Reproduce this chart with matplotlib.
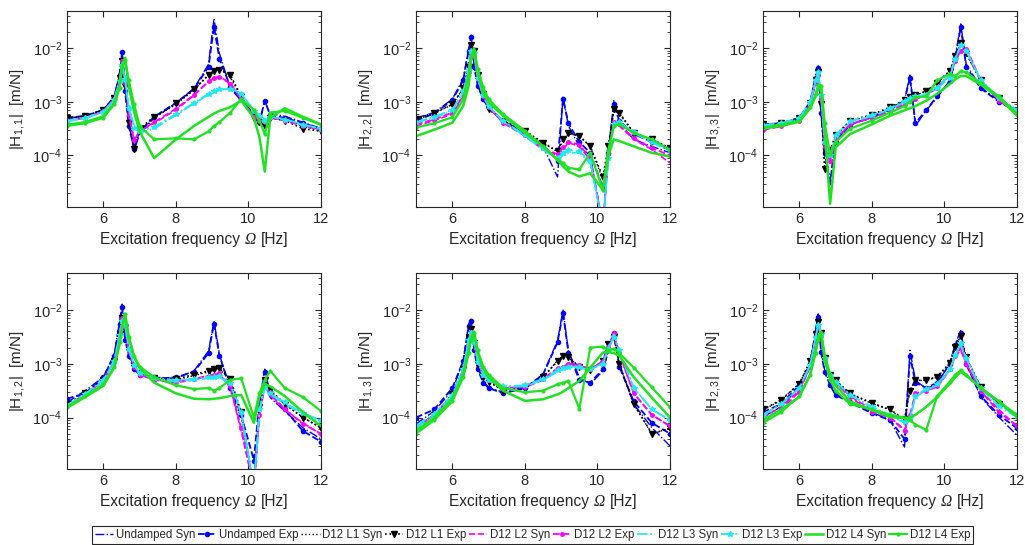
import numpy as np
import matplotlib
matplotlib.use("Agg")
import matplotlib.pyplot as plt
from matplotlib.ticker import LogLocator, NullFormatter
from matplotlib.offsetbox import TextArea, HPacker, AnchoredOffsetbox

plt.rcParams['font.family'] = ['Liberation Sans', 'DejaVu Sans']
plt.rcParams['mathtext.fontset'] = 'custom'
plt.rcParams['mathtext.rm'] = 'Liberation Sans'
plt.rcParams['mathtext.it'] = 'Liberation Sans:italic'
plt.rcParams['text.color'] = '#262626'
plt.rcParams['axes.labelcolor'] = '#262626'
plt.rcParams['xtick.color'] = '#262626'
plt.rcParams['ytick.color'] = '#262626'

# excitation frequency [Hz]
freq = [5.0, 5.5, 6.0, 6.3, 6.45, 6.52, 6.6, 6.7, 6.85, 7.0, 7.4, 8.0, 8.5,
        8.9, 9.05, 9.2, 9.5, 9.8, 10.15, 10.3, 10.45, 10.6, 11.0, 11.5, 12.0]

series = ['Undamped Syn', 'Undamped Exp', 'D12 L1 Syn', 'D12 L1 Exp',
          'D12 L2 Syn', 'D12 L2 Exp', 'D12 L3 Syn', 'D12 L3 Exp',
          'D12 L4 Syn', 'D12 L4 Exp']

# log10 |H| [m/N], one row per series (same order as series)
H11 = [
    [-3.31,-3.27,-3.15,-2.90,-2.45,-2.05,-2.75,-3.40,-3.90,-3.60,-3.30,-3.03,-2.75,-2.30,-1.45,-2.10,-2.75,-2.98,-3.22,-3.40,-3.00,-3.22,-3.27,-3.38,-3.50],
    [-3.30,-3.26,-3.15,-2.92,-2.50,-2.08,-2.80,-3.45,-3.88,-3.55,-3.28,-3.02,-2.76,-2.35,-1.60,-2.20,-2.72,-2.95,-3.24,-3.38,-2.98,-3.25,-3.30,-3.40,-3.50],
    [-3.30,-3.27,-3.15,-2.93,-2.55,-2.20,-2.60,-3.30,-3.80,-3.55,-3.30,-3.05,-2.78,-2.50,-2.43,-2.38,-2.55,-2.90,-3.28,-3.35,-3.42,-3.30,-3.33,-3.45,-3.55],
    [-3.30,-3.27,-3.15,-2.93,-2.55,-2.25,-2.70,-3.40,-3.87,-3.50,-3.28,-3.03,-2.77,-2.50,-2.42,-2.40,-2.50,-2.90,-3.30,-3.37,-3.45,-3.30,-3.35,-3.50,-3.55],
    [-3.35,-3.30,-3.18,-2.95,-2.60,-2.25,-2.60,-3.20,-3.70,-3.55,-3.40,-3.15,-2.88,-2.62,-2.57,-2.53,-2.65,-2.95,-3.28,-3.35,-3.38,-3.30,-3.33,-3.43,-3.52],
    [-3.35,-3.30,-3.18,-2.95,-2.60,-2.25,-2.65,-3.25,-3.72,-3.55,-3.38,-3.13,-2.87,-2.62,-2.56,-2.53,-2.67,-2.95,-3.28,-3.33,-3.38,-3.30,-3.35,-3.45,-3.52],
    [-3.35,-3.30,-3.18,-2.95,-2.60,-2.30,-2.55,-3.10,-3.45,-3.58,-3.50,-3.25,-3.03,-2.87,-2.82,-2.78,-2.75,-2.85,-3.15,-3.25,-3.32,-3.28,-3.32,-3.42,-3.50],
    [-3.36,-3.31,-3.19,-2.96,-2.62,-2.32,-2.58,-3.12,-3.48,-3.55,-3.47,-3.23,-3.02,-2.85,-2.80,-2.77,-2.76,-2.85,-3.17,-3.27,-3.35,-3.28,-3.33,-3.43,-3.50],
    [-3.43,-3.38,-3.27,-3.02,-2.70,-2.30,-2.18,-2.70,-3.20,-3.55,-4.05,-3.70,-3.45,-3.28,-3.22,-3.17,-3.10,-2.98,-3.30,-3.65,-4.30,-3.30,-3.12,-3.28,-3.42],
    [-3.45,-3.40,-3.30,-3.05,-2.75,-2.35,-2.22,-2.60,-3.05,-3.45,-3.70,-3.68,-3.70,-3.55,-3.45,-3.38,-3.20,-2.95,-3.15,-3.35,-3.60,-3.20,-3.17,-3.30,-3.43],
]

H22 = [
    [-3.30,-3.20,-2.95,-2.57,-2.00,-1.76,-2.33,-2.70,-2.95,-3.10,-3.36,-3.58,-3.83,-4.40,-2.90,-3.45,-3.83,-4.00,-5.30,-4.00,-2.98,-3.40,-3.70,-3.83,-3.95],
    [-3.35,-3.22,-2.97,-2.60,-2.05,-1.80,-2.35,-2.70,-2.95,-3.12,-3.35,-3.60,-3.80,-4.10,-2.95,-3.40,-3.75,-3.95,-4.60,-3.95,-3.05,-3.35,-3.60,-3.75,-3.90],
    [-3.33,-3.22,-3.05,-2.75,-2.35,-1.95,-2.05,-2.50,-2.85,-3.12,-3.35,-3.55,-3.77,-3.93,-3.72,-3.60,-3.63,-3.83,-4.45,-3.85,-3.15,-3.22,-3.58,-3.70,-3.86],
    [-3.32,-3.20,-3.05,-2.75,-2.35,-1.95,-2.05,-2.50,-2.85,-3.14,-3.35,-3.54,-3.76,-3.92,-3.70,-3.58,-3.64,-3.83,-4.40,-3.83,-3.14,-3.20,-3.58,-3.70,-3.86],
    [-3.45,-3.35,-3.23,-2.90,-2.45,-2.08,-2.14,-2.58,-2.90,-3.10,-3.39,-3.64,-3.89,-4.00,-3.89,-3.76,-3.83,-4.08,-5.30,-4.00,-3.39,-3.45,-3.70,-3.89,-4.14],
    [-3.42,-3.33,-3.20,-2.88,-2.45,-2.08,-2.14,-2.58,-2.90,-3.10,-3.39,-3.62,-3.86,-3.98,-3.85,-3.74,-3.80,-4.05,-5.30,-3.98,-3.38,-3.42,-3.68,-3.86,-4.00],
    [-3.39,-3.30,-3.17,-2.82,-2.40,-2.05,-2.10,-2.55,-2.88,-3.08,-3.37,-3.64,-3.89,-4.08,-4.00,-3.95,-3.95,-4.14,-5.30,-4.08,-3.45,-3.39,-3.58,-3.76,-3.92],
    [-3.38,-3.28,-3.15,-2.80,-2.40,-2.05,-2.10,-2.55,-2.88,-3.08,-3.36,-3.62,-3.86,-4.05,-3.95,-3.90,-3.92,-4.10,-5.30,-4.05,-3.42,-3.38,-3.56,-3.74,-3.90],
    [-3.64,-3.52,-3.39,-3.08,-2.70,-2.20,-2.00,-2.45,-2.83,-3.01,-3.26,-3.58,-3.83,-4.08,-4.20,-4.30,-4.39,-4.33,-4.64,-4.00,-3.70,-3.73,-3.83,-3.95,-4.02],
    [-3.48,-3.40,-3.29,-2.95,-2.50,-2.14,-2.05,-2.39,-2.73,-2.95,-3.23,-3.54,-3.83,-4.08,-4.14,-4.23,-4.26,-3.95,-4.64,-3.89,-3.45,-3.42,-3.58,-3.70,-3.89],
]

H33 = [
    [-3.45,-3.42,-3.32,-3.00,-2.50,-2.33,-3.25,-4.00,-4.45,-3.73,-3.42,-3.29,-3.16,-2.98,-2.50,-3.45,-3.16,-2.92,-2.60,-2.15,-1.55,-2.30,-2.73,-2.98,-3.17],
    [-3.42,-3.40,-3.30,-3.00,-2.55,-2.38,-3.20,-3.95,-4.50,-3.75,-3.43,-3.28,-3.15,-2.97,-2.55,-3.40,-3.15,-2.90,-2.62,-2.20,-1.60,-2.35,-2.75,-3.00,-3.18],
    [-3.42,-3.40,-3.30,-3.02,-2.60,-2.45,-3.00,-4.20,-3.95,-3.65,-3.36,-3.25,-3.12,-2.98,-2.92,-2.88,-2.80,-2.65,-2.42,-2.15,-1.92,-2.10,-2.62,-2.95,-3.18],
    [-3.42,-3.40,-3.30,-3.02,-2.60,-2.45,-3.05,-4.25,-3.90,-3.62,-3.35,-3.24,-3.10,-2.97,-2.92,-2.88,-2.80,-2.65,-2.42,-2.15,-1.90,-2.10,-2.60,-2.93,-3.18],
    [-3.50,-3.45,-3.35,-3.05,-2.65,-2.48,-2.90,-3.80,-4.15,-3.70,-3.42,-3.30,-3.18,-3.05,-2.98,-2.93,-2.87,-2.72,-2.50,-2.25,-2.05,-2.00,-2.60,-2.98,-3.20],
    [-3.52,-3.46,-3.36,-3.05,-2.65,-2.50,-2.95,-3.85,-4.10,-3.68,-3.42,-3.30,-3.17,-3.04,-2.97,-2.95,-2.88,-2.74,-2.50,-2.25,-2.05,-2.02,-2.60,-2.98,-3.20],
    [-3.45,-3.42,-3.32,-3.02,-2.62,-2.45,-2.85,-3.70,-4.05,-3.65,-3.38,-3.27,-3.14,-3.00,-2.95,-2.90,-2.85,-2.72,-2.50,-2.20,-1.95,-2.05,-2.60,-2.95,-3.17],
    [-3.43,-3.40,-3.30,-3.00,-2.60,-2.45,-2.88,-3.75,-4.00,-3.62,-3.36,-3.25,-3.12,-2.98,-2.93,-2.90,-2.87,-2.75,-2.55,-2.20,-1.95,-2.05,-2.60,-2.93,-3.15],
    [-3.50,-3.45,-3.37,-3.12,-2.90,-2.75,-2.70,-3.50,-4.90,-3.85,-3.60,-3.42,-3.26,-3.16,-3.12,-3.08,-2.98,-2.85,-2.67,-2.58,-2.52,-2.52,-2.68,-2.92,-3.26],
    [-3.48,-3.43,-3.35,-3.10,-2.85,-2.68,-2.70,-3.40,-3.98,-3.75,-3.50,-3.35,-3.20,-3.08,-3.00,-2.92,-2.90,-2.60,-2.48,-2.52,-2.43,-2.45,-2.65,-2.90,-3.22],
]

H12 = [
    [-3.72,-3.50,-3.25,-2.82,-2.20,-1.89,-2.51,-2.82,-3.07,-3.19,-3.25,-3.27,-3.13,-2.76,-2.20,-2.82,-3.50,-4.00,-5.30,-3.75,-3.10,-3.63,-3.88,-4.19,-4.40],
    [-3.65,-3.55,-3.25,-2.85,-2.25,-1.95,-2.55,-2.85,-3.10,-3.20,-3.28,-3.25,-3.15,-2.80,-2.25,-2.85,-3.45,-3.95,-4.80,-3.70,-3.15,-3.55,-3.85,-4.25,-4.45],
    [-3.78,-3.57,-3.30,-2.95,-2.45,-2.15,-2.30,-2.75,-3.05,-3.17,-3.27,-3.30,-3.22,-3.15,-3.12,-3.10,-3.30,-3.95,-5.30,-3.85,-3.30,-3.50,-3.75,-4.00,-4.19],
    [-3.75,-3.55,-3.30,-2.95,-2.45,-2.15,-2.32,-2.75,-3.05,-3.17,-3.27,-3.28,-3.20,-3.13,-3.10,-3.08,-3.28,-3.90,-5.30,-3.80,-3.30,-3.48,-3.75,-4.00,-4.19],
    [-3.80,-3.58,-3.32,-2.95,-2.45,-2.15,-2.30,-2.75,-3.05,-3.20,-3.30,-3.35,-3.30,-3.22,-3.20,-3.19,-3.44,-4.25,-5.30,-4.00,-3.40,-3.60,-3.85,-4.10,-4.31],
    [-3.78,-3.57,-3.32,-2.95,-2.45,-2.15,-2.32,-2.77,-3.05,-3.20,-3.30,-3.33,-3.28,-3.22,-3.20,-3.18,-3.42,-4.20,-5.30,-3.95,-3.40,-3.55,-3.85,-4.12,-4.30],
    [-3.78,-3.57,-3.32,-2.95,-2.47,-2.18,-2.25,-2.70,-3.02,-3.17,-3.28,-3.33,-3.30,-3.27,-3.26,-3.25,-3.38,-3.94,-5.30,-3.90,-3.45,-3.57,-3.75,-3.94,-4.09],
    [-3.77,-3.56,-3.30,-2.95,-2.47,-2.20,-2.27,-2.72,-3.03,-3.17,-3.27,-3.30,-3.28,-3.25,-3.25,-3.23,-3.35,-3.90,-5.30,-3.85,-3.42,-3.55,-3.72,-3.92,-4.05],
    [-3.82,-3.62,-3.41,-3.07,-2.63,-2.32,-2.07,-2.51,-2.88,-3.07,-3.35,-3.55,-3.65,-3.66,-3.65,-3.64,-3.60,-3.58,-4.10,-3.62,-3.38,-3.42,-3.60,-3.90,-4.16],
    [-3.80,-3.60,-3.38,-3.05,-2.60,-2.30,-2.08,-2.50,-2.85,-3.05,-3.25,-3.40,-3.47,-3.45,-3.50,-3.45,-3.30,-3.27,-4.00,-3.55,-3.30,-3.13,-3.45,-3.62,-3.88],
]

H13 = [
    [-4.12,-3.88,-3.50,-2.94,-2.26,-2.17,-2.70,-3.07,-3.32,-3.44,-3.53,-3.47,-3.19,-2.57,-2.00,-2.76,-3.25,-3.38,-3.13,-2.76,-2.39,-3.00,-3.75,-4.19,-4.53],
    [-4.00,-3.85,-3.45,-2.95,-2.30,-2.20,-2.75,-3.10,-3.35,-3.45,-3.55,-3.45,-3.20,-2.60,-2.05,-2.80,-3.30,-3.35,-3.10,-2.75,-2.42,-3.05,-3.70,-4.10,-4.30],
    [-4.19,-3.95,-3.57,-3.10,-2.50,-2.35,-2.60,-3.00,-3.25,-3.32,-3.50,-3.44,-3.25,-2.94,-2.85,-2.88,-3.06,-3.13,-2.94,-2.63,-2.51,-3.00,-3.75,-4.31,-4.19],
    [-4.20,-3.95,-3.57,-3.10,-2.50,-2.35,-2.62,-3.00,-3.25,-3.33,-3.50,-3.43,-3.25,-2.95,-2.85,-2.88,-3.05,-3.12,-2.95,-2.63,-2.50,-3.00,-3.75,-4.30,-4.20],
    [-4.20,-3.95,-3.60,-3.12,-2.55,-2.40,-2.60,-2.95,-3.20,-3.30,-3.45,-3.44,-3.30,-3.10,-3.06,-3.00,-3.02,-3.10,-2.95,-2.70,-2.48,-2.80,-3.55,-3.95,-4.16],
    [-4.18,-3.95,-3.60,-3.12,-2.55,-2.40,-2.62,-2.97,-3.20,-3.30,-3.45,-3.43,-3.28,-3.08,-3.05,-3.00,-3.03,-3.10,-2.95,-2.68,-2.42,-2.80,-3.55,-3.95,-4.16],
    [-4.20,-3.95,-3.60,-3.12,-2.55,-2.40,-2.58,-2.95,-3.20,-3.30,-3.43,-3.42,-3.30,-3.15,-3.10,-3.07,-3.07,-3.12,-2.98,-2.70,-2.45,-2.75,-3.45,-3.85,-4.05],
    [-4.15,-3.93,-3.58,-3.10,-2.55,-2.42,-2.60,-2.97,-3.20,-3.30,-3.42,-3.40,-3.28,-3.12,-3.08,-3.05,-3.05,-3.10,-3.00,-2.72,-2.50,-2.75,-3.45,-3.85,-4.05],
    [-4.25,-4.00,-3.65,-3.20,-2.75,-2.50,-2.40,-2.80,-3.10,-3.25,-3.50,-3.69,-3.66,-3.57,-3.52,-3.45,-3.32,-3.07,-2.79,-2.78,-2.80,-2.85,-3.25,-3.63,-4.00],
    [-4.30,-4.05,-3.70,-3.25,-2.80,-2.55,-2.42,-2.75,-3.05,-3.20,-3.45,-3.53,-3.50,-3.38,-3.35,-3.32,-3.84,-2.70,-2.68,-2.75,-2.72,-2.80,-3.07,-3.44,-3.81],
]

H23 = [
    [-3.99,-3.80,-3.43,-3.00,-2.38,-2.07,-2.75,-3.12,-3.37,-3.56,-3.71,-3.90,-4.05,-4.55,-2.75,-3.31,-3.46,-3.37,-2.99,-2.63,-2.38,-2.99,-3.62,-3.99,-4.33],
    [-3.90,-3.75,-3.40,-3.00,-2.40,-2.12,-2.78,-3.15,-3.40,-3.58,-3.72,-3.92,-4.05,-4.40,-2.85,-3.35,-3.45,-3.35,-3.00,-2.65,-2.42,-3.00,-3.60,-3.95,-4.20],
    [-3.86,-3.68,-3.37,-2.95,-2.45,-2.20,-2.40,-2.90,-3.20,-3.31,-3.56,-3.74,-3.86,-4.05,-3.49,-3.31,-3.31,-3.25,-2.99,-2.68,-2.50,-2.88,-3.43,-3.74,-3.99],
    [-3.85,-3.67,-3.37,-2.95,-2.45,-2.22,-2.42,-2.90,-3.20,-3.31,-3.55,-3.73,-3.85,-4.03,-3.50,-3.31,-3.30,-3.24,-2.98,-2.68,-2.48,-2.88,-3.43,-3.74,-3.97],
    [-4.00,-3.80,-3.50,-3.05,-2.55,-2.30,-2.45,-2.90,-3.20,-3.35,-3.60,-3.85,-3.99,-4.23,-3.98,-3.56,-3.50,-3.43,-3.12,-2.85,-2.75,-3.00,-3.50,-3.85,-4.17],
    [-4.05,-3.85,-3.52,-3.05,-2.55,-2.30,-2.48,-2.90,-3.20,-3.35,-3.62,-3.90,-4.00,-4.25,-3.95,-3.55,-3.50,-3.42,-3.10,-2.85,-2.70,-3.00,-3.50,-3.90,-4.15],
    [-3.95,-3.75,-3.45,-3.02,-2.50,-2.25,-2.42,-2.90,-3.20,-3.33,-3.58,-3.82,-3.96,-4.10,-4.03,-3.62,-3.49,-3.40,-3.12,-2.85,-2.65,-2.90,-3.45,-3.80,-3.99],
    [-3.95,-3.75,-3.45,-3.02,-2.50,-2.27,-2.45,-2.90,-3.20,-3.33,-3.58,-3.80,-3.95,-4.08,-4.00,-3.60,-3.47,-3.38,-3.10,-2.83,-2.62,-2.90,-3.45,-3.78,-3.97],
    [-4.05,-3.85,-3.62,-3.20,-2.75,-2.50,-2.40,-2.85,-3.20,-3.40,-3.70,-3.86,-3.99,-4.01,-4.00,-3.95,-3.80,-3.62,-3.37,-3.25,-3.15,-3.22,-3.45,-3.70,-3.99],
    [-4.10,-3.90,-3.60,-3.20,-2.80,-2.55,-2.42,-2.95,-3.30,-3.50,-3.75,-3.85,-3.95,-4.00,-4.05,-4.13,-4.23,-3.60,-3.33,-3.20,-3.12,-3.20,-3.45,-3.70,-3.95],
]

panels = [(H11, '1,1'), (H22, '2,2'), (H33, '3,3'),
          (H12, '1,2'), (H13, '1,3'), (H23, '2,3')]

blue = '#0000ff'
green = '#22e022'
cyan = '#22e8f0'
styles = [
    dict(color=blue, ls='-.', lw=1.0),
    dict(color=blue, ls='--', lw=1.3, marker='o', ms=3),
    dict(color='black', ls=':', lw=1.0),
    dict(color='black', ls=':', lw=1.2, marker='v', ms=4),
    dict(color='#ff00ff', ls='--', lw=1.2),
    dict(color='#ff00ff', ls='--', lw=1.3, marker='o', ms=2.5),
    dict(color=cyan, ls='-.', lw=1.2),
    dict(color=cyan, ls='-.', lw=1.3, marker='*', ms=4),
    dict(color=green, ls='-', lw=1.8),
    dict(color=green, ls='-', lw=1.6, marker='o', ms=2),
]


def freq_label(ax):
    # "Excitation frequency Ω [Hz]" with an italic serif Omega
    tp = dict(fontsize=11.2, color='#262626')
    parts = [TextArea('Excitation frequency', textprops=tp),
             TextArea('\u03A9', textprops=dict(tp, family='Liberation Serif', style='italic')),
             TextArea('[Hz]', textprops=tp)]
    box = HPacker(children=parts, align='baseline', pad=0, sep=3.5)
    anc = AnchoredOffsetbox(loc='upper center', child=box, pad=0, borderpad=0,
                            frameon=False, bbox_to_anchor=(0.5, -0.125),
                            bbox_transform=ax.transAxes)
    ax.add_artist(anc)


fig = plt.figure(figsize=(10.25, 5.45), dpi=100)
lefts = [0.0654, 0.4059, 0.7444]
bottoms = [0.6202, 0.1394]
w, h = 0.2478, 0.3605

handles = []
for k, (data, lab) in enumerate(panels):
    ax = fig.add_axes([lefts[k % 3], bottoms[k // 3], w, h])
    for j, row in enumerate(data):
        ln, = ax.plot(freq, 10 ** np.array(row), label=series[j], **styles[j])
        if k == 0:
            handles.append(ln)
    ax.set_yscale('log')
    ax.set_xlim(5, 12)
    ax.set_ylim(1.1e-5, 5e-2)
    ax.set_xticks([6, 8, 10, 12])
    ax.yaxis.set_major_locator(LogLocator(base=10, numticks=10))
    ax.yaxis.set_minor_locator(LogLocator(base=10, subs=np.arange(2, 10), numticks=10))
    ax.yaxis.set_minor_formatter(NullFormatter())
    ax.tick_params(which='both', direction='in', top=True, right=True, labelsize=10.5)
    ax.tick_params(which='major', length=4)
    ax.tick_params(which='minor', length=2)
    for s in ax.spines.values():
        s.set_color('#262626')
        s.set_linewidth(0.8)
    freq_label(ax)
    ax.set_ylabel(r'|H$_{' + lab + r'}$|  [m/N]', fontsize=11)

leg = fig.legend(handles=handles, loc='center', bbox_to_anchor=(0.5195, 0.0185),
                 ncol=10, fontsize=8.3, numpoints=1, handlelength=1.6,
                 handletextpad=0.2, columnspacing=0.25, borderpad=0.25,
                 fancybox=False, framealpha=1, edgecolor='#262626')
leg.get_frame().set_linewidth(0.8)

fig.savefig('out.png', dpi=100)
